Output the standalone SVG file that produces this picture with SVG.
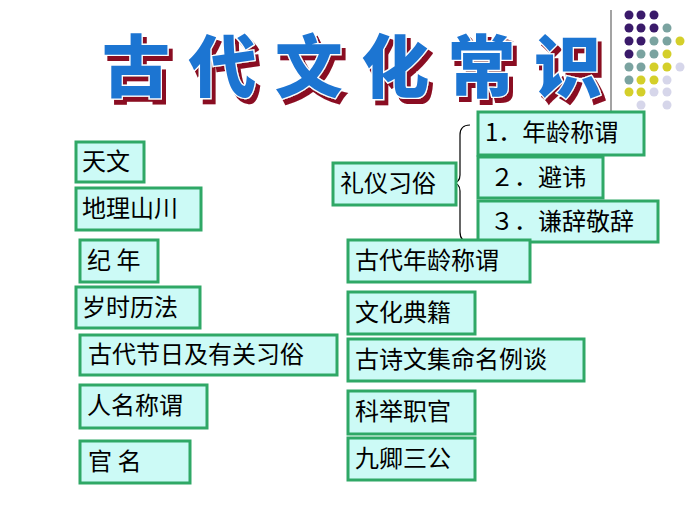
<svg xmlns="http://www.w3.org/2000/svg" width="700" height="524" viewBox="0 0 700 524">
<defs>
<filter id="sh" x="-10%" y="-10%" width="130%" height="130%">
<feDropShadow dx="4" dy="5" stdDeviation="0.6" flood-color="#8a1020" flood-opacity="1"/>
</filter>
</defs>
<style>
.b rect{fill:#ccfaf6;stroke:#2fa866;stroke-width:3}
.b text{font-family:"Noto Sans CJK SC",sans-serif;font-size:24px;fill:#000}
.t{font-family:"Noto Sans CJK SC",sans-serif;font-size:68px;font-weight:900;fill:#1e74d2;stroke:#fff;stroke-width:2.5;paint-order:stroke}
</style>
<rect width="700" height="524" fill="#fff"/>
<g id="title" filter="url(#sh)">
<text class="t" x="102" y="92" textLength="500" lengthAdjust="spacing">古代文化常识</text>
</g>
<g id="deco">
<line x1="611" y1="10" x2="611" y2="120" stroke="#666" stroke-width="1.2"/>
<g fill="#3a1a6a">
<circle cx="629" cy="15" r="4.5"/><circle cx="641" cy="15" r="4.5"/><circle cx="654" cy="15" r="4.5"/>
<circle cx="629" cy="28" r="4.5"/><circle cx="641" cy="28" r="4.5"/><circle cx="654" cy="28" r="4.5"/>
<circle cx="629" cy="41" r="4.5"/><circle cx="641" cy="41" r="4.5"/>
<circle cx="629" cy="54" r="4.5"/>
</g>
<g fill="#7aa3a0">
<circle cx="667" cy="28" r="4.5"/><circle cx="654" cy="41" r="4.5"/><circle cx="667" cy="41" r="4.5"/>
<circle cx="641" cy="54" r="4.5"/><circle cx="654" cy="54" r="4.5"/>
<circle cx="629" cy="67" r="4.5"/><circle cx="641" cy="67" r="4.5"/><circle cx="629" cy="80" r="4.5"/>
</g>
<g fill="#d4cf2a">
<circle cx="680" cy="41" r="4.5"/><circle cx="667" cy="54" r="4.5"/><circle cx="654" cy="67" r="4.5"/><circle cx="667" cy="67" r="4.5"/>
<circle cx="641" cy="80" r="4.5"/><circle cx="654" cy="80" r="4.5"/><circle cx="629" cy="92" r="4.5"/><circle cx="641" cy="92" r="4.5"/>
</g>
<g fill="#d6d6ea">
<circle cx="680" cy="67" r="4.5"/><circle cx="667" cy="80" r="4.5"/><circle cx="654" cy="92" r="4.5"/><circle cx="667" cy="92" r="4.5"/>
<circle cx="641" cy="105" r="4.5"/><circle cx="667" cy="105" r="4.5"/>
</g>
</g>
<g id="connectors">
<path d="M470,125 Q460,125 460,135 L460,175 Q460,183 452,183 Q460,183 460,191 L460,232 Q460,242 470,242" fill="none" stroke="#000" stroke-width="1.2"/>
</g>
<g id="n1" class="b"><rect x="76" y="142" width="68" height="40"/><text x="82" y="170">天文</text></g>
<g id="n2" class="b"><rect x="76" y="188" width="125" height="42"/><text x="82" y="217">地理山川</text></g>
<g id="n3" class="b"><rect x="80" y="240" width="78" height="42"/><text x="87" y="269">纪 年</text></g>
<g id="n4" class="b"><rect x="76" y="287" width="124" height="41"/><text x="82" y="316">岁时历法</text></g>
<g id="n5" class="b"><rect x="80" y="335" width="257" height="40"/><text x="88" y="363">古代节日及有关习俗</text></g>
<g id="n6" class="b"><rect x="80" y="385" width="127" height="43"/><text x="87" y="414">人名称谓</text></g>
<g id="n7" class="b"><rect x="80" y="441" width="110" height="42"/><text x="88" y="470">官 名</text></g>
<g id="n8" class="b"><rect x="333" y="163" width="123" height="42"/><text x="340" y="192">礼仪习俗</text></g>
<g id="n9" class="b"><rect x="478" y="112" width="166" height="43"/><text x="485" y="141">1．年龄称谓</text></g>
<g id="n10" class="b"><rect x="478" y="157" width="125" height="41"/><text x="490" y="186">２．避讳</text></g>
<g id="n11" class="b"><rect x="478" y="201" width="180" height="41"/><text x="490" y="230">３．谦辞敬辞</text></g>
<g id="n12" class="b"><rect x="348" y="240" width="182" height="42"/><text x="355" y="269">古代年龄称谓</text></g>
<g id="n13" class="b"><rect x="348" y="292" width="127" height="42"/><text x="355" y="321">文化典籍</text></g>
<g id="n14" class="b"><rect x="348" y="339" width="236" height="42"/><text x="355" y="368">古诗文集命名例谈</text></g>
<g id="n15" class="b"><rect x="348" y="391" width="127" height="43"/><text x="355" y="420">科举职官</text></g>
<g id="n16" class="b"><rect x="348" y="438" width="127" height="42"/><text x="355" y="467">九卿三公</text></g>
</svg>
